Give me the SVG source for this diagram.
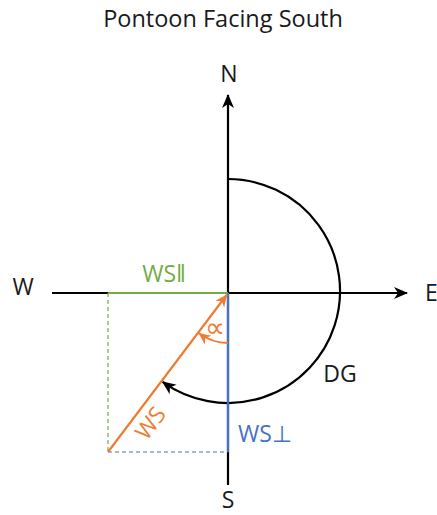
<svg xmlns="http://www.w3.org/2000/svg" width="437" height="515" viewBox="0 0 437 515">
<style>
text{font-family:"Open Sans","Liberation Sans",sans-serif;}
.lbl{font-size:23px;fill:#1a1a1a;}
.ax{stroke:#000;stroke-width:2.2;fill:none;}
</style>
<defs>
<marker id="ak" markerUnits="userSpaceOnUse" markerWidth="16" markerHeight="16" viewBox="0 0 16 16" refX="13" refY="8" orient="auto">
<path d="M0,2 L14,8 L0,14 L4,8 Z" fill="#000"/>
</marker>
<marker id="ao" markerUnits="userSpaceOnUse" markerWidth="14" markerHeight="14" viewBox="0 0 14 14" refX="12" refY="7" orient="auto">
<path d="M0,1.5 L12,7 L0,12.5 L3.5,7 Z" fill="#ED7D31"/>
</marker>
</defs>
<rect width="437" height="515" fill="#fff"/>
<text x="223" y="27" font-size="23.5" text-anchor="middle" fill="#1a1a1a">Pontoon Facing South</text>
<g id="connectors">
<line class="ax" x1="52" y1="293" x2="407" y2="293" marker-end="url(#ak)"/>
<line class="ax" x1="228" y1="485" x2="228" y2="95" marker-end="url(#ak)"/>
<path class="ax" d="M228,179 A112,112 0 1 1 162.6,381.9" marker-end="url(#ak)"/>
<line x1="108" y1="293" x2="228" y2="293" stroke="#70AD47" stroke-width="2.2"/>
<line x1="108" y1="293" x2="108" y2="452" stroke="#70AD47" stroke-width="1.2" stroke-dasharray="4,3"/>
<line x1="108" y1="452" x2="228" y2="452" stroke="#4472C4" stroke-width="1.2" stroke-dasharray="4,3"/>
<line x1="228" y1="293" x2="228" y2="452" stroke="#4472C4" stroke-width="2.2"/>
<line x1="108" y1="452" x2="227" y2="294.5" stroke="#ED7D31" stroke-width="2.2" marker-end="url(#ao)"/>
<path d="M228,343 A50,50 0 0 1 198.5,333" fill="none" stroke="#ED7D31" stroke-width="2" marker-end="url(#ao)"/>
</g>
<g id="N"><text class="lbl" x="229" y="82" text-anchor="middle">N</text></g>
<g id="S"><text class="lbl" x="228" y="508" text-anchor="middle">S</text></g>
<g id="W"><text class="lbl" x="23" y="295" text-anchor="middle">W</text></g>
<g id="E"><text class="lbl" x="425" y="301">E</text></g>
<g id="DG"><text class="lbl" x="340" y="382" text-anchor="middle">DG</text></g>
<g id="WSpar"><text x="164" y="282" font-size="23" fill="#70AD47" text-anchor="middle">WS‖</text></g>
<g id="WSperp"><text x="265" y="442" font-size="23" fill="#4472C4" text-anchor="middle">WS⊥</text></g>
<g id="WS"><text x="0" y="0" font-size="23" fill="#ED7D31" text-anchor="middle" transform="translate(157,428) rotate(-53)">WS</text></g>
<g id="alpha"><text x="215" y="337" font-size="28" fill="#ED7D31" text-anchor="middle">∝</text></g>
</svg>
